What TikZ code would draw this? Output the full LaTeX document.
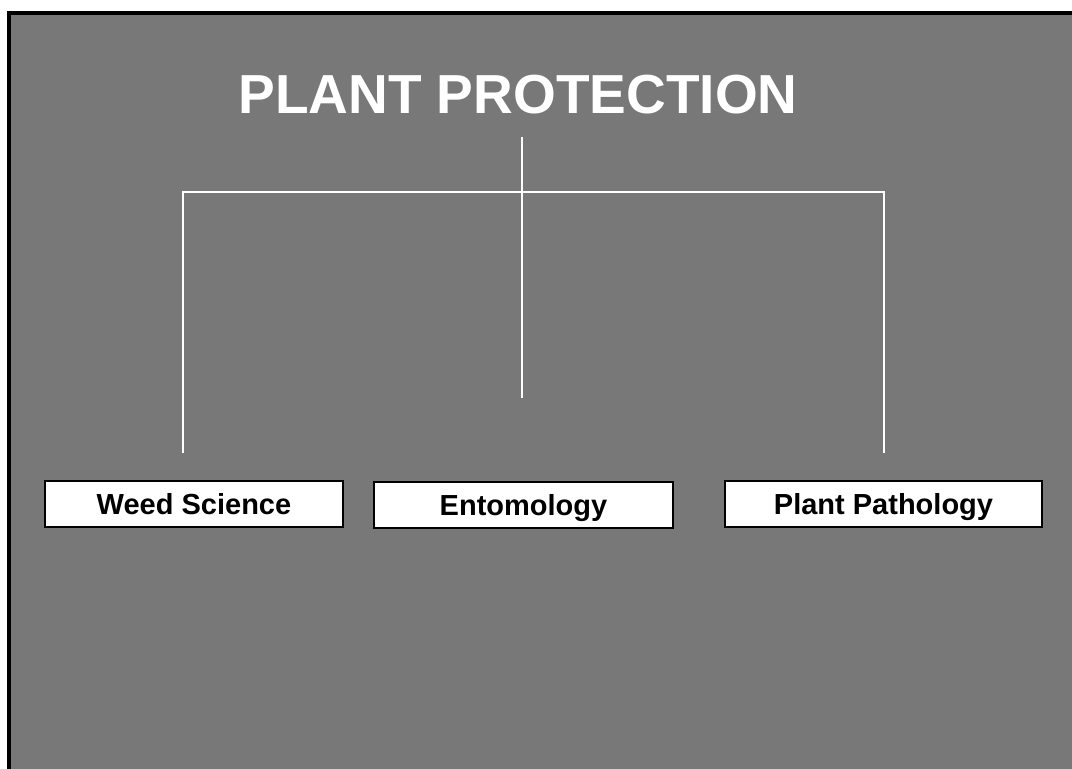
\documentclass[tikz,border=0pt]{standalone}
\usepackage{fontspec}
\setmainfont{Liberation Sans}
\usepackage{tikz}
\usetikzlibrary{positioning}
\definecolor{slidegray}{RGB}{120,120,120}
\begin{document}
\begin{tikzpicture}[x=1pt,y=-1pt]

\tikzset{branch/.style = {draw=black,fill=white,line width=1.2pt,inner sep=0pt,
  minimum height=46pt,text height=21pt,text depth=0pt,
  font=\bfseries\fontsize{29}{32}\selectfont}}
\tikzset{link/.style = {draw=white,line width=1.8pt}}
\useasboundingbox (0,0) rectangle (1072,769);
% slide
\draw[fill=slidegray,line width=4pt] (9,12.5) rectangle (1090,790);
% title
\node[anchor=base,text=white,font=\bfseries\fontsize{55}{60}\selectfont] (title) at (518,113) {PLANT PROTECTION};
% branches
\node[branch,minimum width=298pt] (weed) at (194,504) {Weed Science};
\node[branch,minimum width=299pt] (ento) at (523.5,505) {Entomology};
\node[branch,minimum width=317pt] (path) at (883.5,504) {Plant Pathology};
% lines
\coordinate (top) at (522,137);
\coordinate (mid) at (522,398);
\coordinate (hl) at (183,192);
\coordinate (hr) at (884,192);
\coordinate (wl) at (183,453);
\coordinate (pl) at (884,453);
\path[link] (top) -- (mid);
\path[link] (wl) -- (hl) -- (hr) -- (pl);
\end{tikzpicture}
\end{document}
